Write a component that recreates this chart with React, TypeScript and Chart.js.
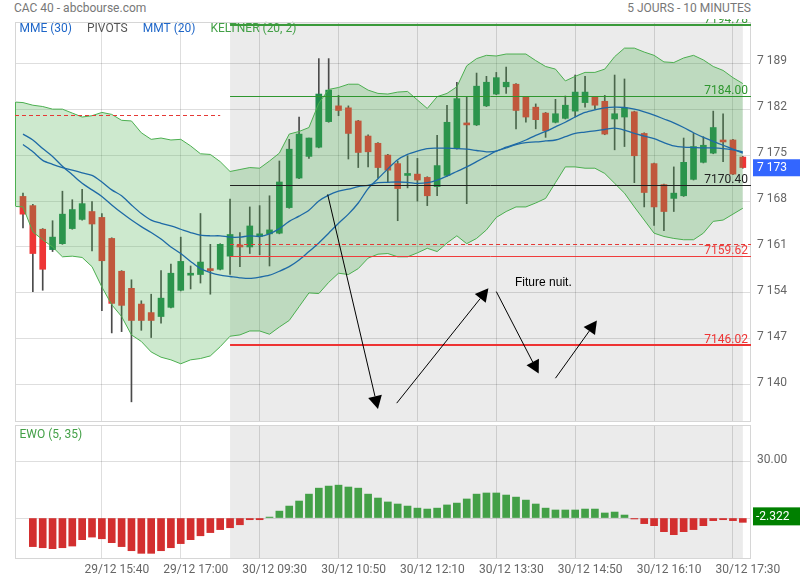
import React, { useEffect, useRef } from 'react';
import { Chart, registerables } from 'chart.js';

Chart.register(...registerables);

// ---------- data ----------
const TIME_TICKS = [8, 16, 24, 32, 40, 48, 56, 64, 72];
const TIME_LABELS = ['29/12 15:40', '29/12 17:00', '30/12 09:30', '30/12 10:50', '30/12 12:10', '30/12 13:30', '30/12 14:50', '30/12 16:10', '30/12 17:30'];
const PRICE_TICKS = [7140, 7147, 7154, 7161, 7168, 7175, 7182, 7189];
const EWO_TICKS = [0, 30];

const OPEN = [7168.7, 7167.3, 7163.7, 7160.6, 7161.5, 7163.8, 7165.2, 7166.4, 7165.5, 7162.3, 7157.3, 7154.7, 7152.3, 7151.0, 7150.4, 7151.8, 7154.4, 7156.7, 7156.8, 7157.7, 7157.6, 7159.6, 7161.3, 7161.0, 7162.6, 7163.0, 7163.1, 7167.0, 7171.5, 7174.8, 7176.2, 7180.1, 7182.5, 7182.2, 7180.2, 7177.9, 7176.8, 7175.0, 7173.7, 7171.9, 7172.1, 7171.6, 7170.2, 7171.9, 7176.0, 7179.9, 7179.6, 7182.5, 7184.3, 7185.4, 7185.8, 7183.8, 7182.3, 7181.4, 7180.0, 7180.6, 7181.7, 7183.0, 7183.8, 7183.2, 7180.5, 7180.8, 7181.6, 7178.3, 7173.7, 7170.5, 7168.4, 7168.8, 7171.3, 7173.9, 7175.3, 7177.3, 7177.3, 7174.7];
const HIGH = [7169.2, 7167.5, 7163.8, 7165.0, 7169.5, 7168.2, 7169.8, 7167.9, 7166.1, 7162.4, 7157.4, 7156.0, 7152.8, 7153.8, 7157.4, 7158.4, 7162.5, 7158.1, 7166.1, 7161.4, 7161.5, 7168.3, 7163.2, 7167.1, 7167.3, 7168.8, 7174.1, 7177.4, 7180.8, 7177.6, 7189.7, 7189.7, 7184.1, 7182.5, 7180.3, 7178.1, 7176.9, 7175.1, 7174.1, 7174.9, 7174.5, 7171.7, 7178.0, 7182.6, 7186.1, 7183.9, 7187.5, 7187.0, 7187.6, 7188.4, 7185.9, 7183.9, 7182.8, 7181.5, 7183.5, 7184.0, 7187.2, 7187.0, 7183.9, 7184.1, 7187.2, 7186.6, 7181.7, 7178.4, 7173.8, 7170.6, 7173.2, 7177.6, 7178.3, 7177.8, 7181.7, 7181.3, 7177.4, 7174.8];
const LOW = [7163.9, 7154.2, 7154.4, 7160.3, 7161.4, 7163.7, 7165.1, 7160.4, 7151.3, 7147.9, 7148.1, 7137.4, 7148.3, 7147.2, 7149.4, 7151.7, 7154.3, 7154.6, 7155.5, 7153.8, 7157.5, 7156.8, 7158.0, 7160.0, 7159.8, 7158.1, 7163.0, 7166.9, 7171.4, 7174.5, 7176.1, 7180.0, 7181.0, 7174.4, 7173.1, 7173.2, 7171.5, 7170.9, 7165.0, 7170.0, 7168.0, 7167.3, 7168.8, 7171.8, 7175.9, 7167.6, 7179.5, 7182.4, 7184.2, 7184.4, 7179.0, 7180.0, 7179.0, 7177.7, 7179.9, 7180.5, 7180.8, 7182.3, 7182.0, 7178.1, 7175.8, 7176.3, 7170.8, 7167.1, 7164.3, 7163.5, 7166.4, 7168.7, 7171.2, 7173.8, 7175.2, 7174.0, 7172.0, 7173.0];
const CLOSE = [7166.0, 7160.0, 7157.6, 7162.5, 7166.0, 7166.7, 7167.6, 7164.5, 7158.9, 7152.4, 7152.1, 7149.8, 7149.8, 7149.8, 7153.2, 7157.0, 7158.8, 7157.0, 7158.7, 7157.4, 7161.4, 7162.9, 7161.0, 7164.2, 7163.0, 7163.6, 7170.9, 7175.9, 7178.2, 7177.6, 7184.3, 7184.9, 7181.8, 7178.3, 7175.4, 7175.5, 7173.1, 7172.7, 7169.9, 7172.2, 7171.2, 7168.8, 7173.4, 7180.0, 7183.6, 7179.6, 7185.5, 7186.1, 7186.8, 7186.1, 7181.8, 7180.8, 7180.4, 7178.7, 7181.3, 7182.6, 7184.6, 7184.6, 7182.6, 7178.2, 7181.3, 7182.2, 7174.9, 7169.3, 7167.1, 7166.4, 7169.2, 7173.9, 7176.3, 7176.5, 7179.2, 7177.0, 7172.1, 7173.1];

// Keltner channel, first value is one bar before the first candle
const KELTNER_FIRST_INDEX = -1;
const KELTNER_UPPER = [7183.1, 7183.0, 7182.6, 7182.4, 7182.0, 7182.0, 7181.4, 7180.8, 7181.0, 7181.5, 7181.2, 7180.3, 7180.2, 7178.4, 7177.4, 7177.6, 7177.3, 7177.4, 7176.4, 7175.2, 7175.1, 7174.0, 7172.5, 7172.8, 7173.1, 7173.0, 7174.1, 7175.3, 7178.2, 7178.6, 7179.2, 7182.9, 7185.0, 7185.3, 7185.8, 7185.8, 7184.9, 7184.4, 7184.3, 7184.6, 7184.7, 7183.4, 7182.1, 7183.9, 7184.4, 7185.4, 7188.6, 7189.7, 7190.2, 7190.1, 7190.4, 7190.4, 7190.4, 7189.4, 7188.5, 7188.1, 7186.3, 7187.0, 7187.6, 7187.6, 7188.1, 7190.0, 7191.3, 7191.3, 7190.7, 7190.2, 7189.2, 7189.1, 7189.8, 7190.2, 7189.5, 7188.5, 7187.9, 7186.8, 7185.9];
const KELTNER_LOWER = [7167.2, 7167.1, 7163.3, 7162.1, 7161.0, 7159.5, 7159.6, 7159.4, 7158.0, 7154.9, 7152.2, 7150.4, 7147.6, 7146.6, 7145.0, 7144.2, 7143.8, 7143.2, 7143.8, 7144.0, 7144.4, 7145.8, 7147.4, 7147.6, 7148.2, 7148.2, 7147.7, 7148.8, 7149.8, 7151.9, 7154.0, 7153.9, 7155.6, 7157.0, 7156.8, 7157.7, 7159.3, 7159.9, 7160.0, 7159.5, 7159.5, 7160.1, 7160.8, 7160.3, 7161.6, 7162.7, 7161.5, 7162.3, 7163.6, 7165.5, 7166.4, 7167.1, 7167.1, 7167.7, 7168.4, 7170.8, 7173.2, 7173.2, 7173.0, 7173.0, 7172.2, 7170.7, 7169.2, 7167.1, 7165.1, 7163.1, 7162.6, 7162.3, 7162.1, 7162.1, 7163.1, 7164.9, 7165.1, 7166.0, 7166.9];

const MMT_20 = [7178.2, 7177.3, 7176.0, 7174.8, 7173.3, 7172.0, 7170.7, 7169.7, 7168.7, 7167.4, 7166.2, 7165.1, 7164.1, 7163.2, 7162.2, 7161.0, 7160.0, 7158.8, 7157.7, 7157.1, 7156.7, 7156.5, 7156.3, 7156.2, 7156.4, 7156.7, 7157.3, 7158.0, 7159.0, 7160.3, 7161.6, 7163.1, 7164.6, 7166.0, 7167.7, 7169.9, 7171.4, 7172.9, 7174.3, 7175.1, 7175.6, 7176.0, 7176.05, 7176.05, 7176.0, 7175.9, 7175.7, 7175.5, 7175.6, 7176.2, 7176.7, 7177.3, 7178.0, 7178.6, 7179.3, 7180.0, 7180.8, 7181.5, 7181.9, 7182.2, 7182.3, 7182.25, 7182.0, 7181.6, 7181.1, 7180.5, 7179.9, 7179.2, 7178.4, 7177.7, 7177.1, 7176.5, 7175.9, 7175.3];
const MME_30 = [7176.6, 7175.5, 7174.2, 7173.6, 7173.1, 7172.7, 7172.3, 7171.9, 7170.9, 7169.7, 7168.8, 7167.4, 7166.1, 7165.1, 7164.6, 7164.2, 7163.7, 7163.2, 7162.8, 7162.7, 7162.7, 7162.5, 7162.5, 7162.7, 7162.6, 7163.0, 7163.8, 7164.9, 7165.7, 7166.6, 7168.0, 7168.9, 7169.5, 7169.8, 7170.2, 7170.4, 7170.8, 7170.85, 7170.9, 7170.85, 7170.7, 7170.8, 7171.2, 7171.8, 7172.5, 7173.2, 7174.0, 7174.8, 7175.6, 7176.1, 7176.6, 7176.9, 7177.0, 7177.15, 7177.3, 7177.8, 7178.3, 7178.5, 7178.7, 7178.9, 7179.1, 7178.8, 7178.3, 7177.9, 7177.5, 7176.9, 7176.4, 7176.2, 7176.15, 7176.1, 7176.1, 7176.0, 7175.8, 7175.5];

const EWO = [null, -15.3, -15.9, -16.4, -15.9, -15.0, -11.6, -10.2, -11.1, -13.2, -15.3, -17.5, -18.9, -18.9, -17.5, -15.9, -13.7, -11.6, -9.5, -7.8, -6.2, -5.2, -3.6, -0.9, -0.9, 0.5, 3.7, 6.4, 9.1, 12.8, 16.0, 17.1, 17.6, 16.6, 16.0, 12.8, 10.7, 8.6, 7.5, 6.4, 5.3, 4.8, 5.3, 7.0, 8.0, 10.2, 12.8, 13.4, 13.4, 12.3, 11.2, 9.6, 7.5, 5.3, 4.3, 4.3, 4.3, 4.8, 4.8, 2.7, 3.2, 1.6, -0.5, -3.0, -4.1, -7.3, -8.9, -7.3, -6.2, -4.1, -1.4, -0.9, -1.4, -2.3];

const PIVOT_VALUES = [7194.78, 7184.0, 7170.4, 7161.45, 7159.62, 7146.02];
const PIVOT_LABELS = ['7194.78', '7184.00', '7170.40', '', '7159.62', '7146.02'];
const PREV_SESSION_PIVOT = 7181.1;
const SESSION_START_INDEX = 21;
const LAST_INDEX = 73;
const LAST_PRICE = 7173.07;
const LAST_EWO = -2.322;

// hand-drawn annotations: [fromIndex, fromPrice, toIndex, toPrice]
const ARROWS = [
  [30.9, 7169.0, 36.0, 7136.3],
  [37.9, 7137.2, 47.2, 7154.7],
  [48.0, 7154.2, 52.3, 7141.7],
  [54.0, 7141.0, 58.2, 7149.8],
];
const NOTE_INDEX = 49.9;
const NOTE_PRICE = 7155.5;
const NOTE_TEXT = 'Fiture nuit.';

// ---------- styles ----------
const FONT = 'Roboto';
const GRID = 'rgba(0,0,0,0.13)';
const BORDER = '#d6d6d6';
const SHADE = '#ebebeb';
const CANDLE_UP = '#1f8a4c';
const CANDLE_DOWN = '#ee3535';
const WICK = '#4a4a4a';
const BAND_LINE = '#4caf50';
const BAND_FILL = 'rgba(76,175,80,0.28)';
const MA_COLOR = '#1e6aa6';
const EWO_UP = '#43a047';
const EWO_DOWN = '#d32f2f';
const PIVOT_STYLE = [
  { color: '#3a9a3a', width: 2, dash: [] as number[] },
  { color: '#2e962e', width: 1, dash: [] as number[] },
  { color: '#222222', width: 1, dash: [] as number[] },
  { color: '#e53935', width: 1, dash: [4, 3] },
  { color: '#f03c3c', width: 1, dash: [] as number[] },
  { color: '#ee3333', width: 2, dash: [] as number[] },
];
const X_MIN = -0.81;
const X_MAX = 73.83;

const fmtThousands = (v: number) => String(Math.round(v)).replace(/\B(?=(\d{3})+(?!\d))/g, ' ');

function xScaleOptions(showLabels: boolean) {
  return {
    type: 'linear' as const,
    min: X_MIN,
    max: X_MAX,
    offset: false,
    grid: { color: GRID, drawTicks: false, offset: false },
    border: { display: false },
    afterBuildTicks: (axis: any) => {
      axis.ticks = TIME_TICKS.map((v) => ({ value: v }));
    },
    afterFit: (axis: any) => {
      axis.height = showLabels ? 22 : 0;
      axis.paddingLeft = 0;
      axis.paddingRight = 0;
    },
    ticks: {
      display: showLabels,
      autoSkip: false,
      maxRotation: 0,
      labelOffset: 15,
      padding: 5,
      color: '#666',
      font: { family: FONT, size: 12 },
      callback: (v: any) => {
        const k = TIME_TICKS.indexOf(Number(v));
        return k >= 0 ? TIME_LABELS[k] : '';
      },
    },
  };
}

function yAfterFit(axis: any) {
  axis.width = 49;
  axis.paddingTop = 0;
  axis.paddingBottom = 0;
}

function drawArrow(ctx: CanvasRenderingContext2D, x1: number, y1: number, x2: number, y2: number) {
  const ang = Math.atan2(y2 - y1, x2 - x1);
  const L = 13;
  const W = 7;
  const bx = x2 - L * Math.cos(ang);
  const by = y2 - L * Math.sin(ang);
  ctx.beginPath();
  ctx.moveTo(x1, y1);
  ctx.lineTo(bx, by);
  ctx.stroke();
  ctx.beginPath();
  ctx.moveTo(x2, y2);
  ctx.lineTo(bx + W * Math.sin(ang), by - W * Math.cos(ang));
  ctx.lineTo(bx - W * Math.sin(ang), by + W * Math.cos(ang));
  ctx.closePath();
  ctx.fill();
}

const mainPlugin = {
  id: 'mainDecor',
  beforeDraw(chart: any) {
    const { ctx, chartArea: a, scales } = chart;
    const x0 = scales.x.getPixelForValue(SESSION_START_INDEX);
    const x1 = scales.x.getPixelForValue(LAST_INDEX);
    ctx.save();
    ctx.fillStyle = SHADE;
    ctx.fillRect(x0, a.top, x1 - x0, a.bottom - a.top);
    ctx.restore();
  },
  beforeDatasetsDraw(chart: any) {
    const { ctx, chartArea: a } = chart;
    ctx.save();
    ctx.font = `12px ${FONT}`;
    ctx.textBaseline = 'middle';
    const items: [string, string][] = [
      ['MME (30)', '#1e66c8'],
      ['PIVOTS', '#555555'],
      ['MMT (20)', '#1e66c8'],
      ['KELTNER (20, 2)', '#43a047'],
    ];
    let x = a.left + 4.5;
    for (const [t, c] of items) {
      ctx.fillStyle = c;
      ctx.fillText(t, x, a.top + 7);
      x += ctx.measureText(t).width + 15;
    }
    ctx.restore();
  },
  afterDatasetsDraw(chart: any) {
    const { ctx, chartArea: a, scales } = chart;
    const xs = scales.x;
    const ys = scales.y;
    // frame
    ctx.save();
    ctx.strokeStyle = BORDER;
    ctx.lineWidth = 1;
    ctx.strokeRect(a.left + 0.5, a.top + 0.5, a.right - a.left - 1, a.bottom - a.top);
    // left edge of the Keltner band where it meets the frame
    const t = (X_MIN - KELTNER_FIRST_INDEX);
    const upEdge = KELTNER_UPPER[0] + (KELTNER_UPPER[1] - KELTNER_UPPER[0]) * t;
    const loEdge = KELTNER_LOWER[0] + (KELTNER_LOWER[1] - KELTNER_LOWER[0]) * t;
    ctx.strokeStyle = BAND_LINE;
    ctx.beginPath();
    ctx.moveTo(a.left + 0.5, ys.getPixelForValue(upEdge));
    ctx.lineTo(a.left + 0.5, ys.getPixelForValue(loEdge));
    ctx.stroke();
    ctx.restore();

    ctx.save();
    ctx.beginPath();
    ctx.rect(a.left, a.top - 3, a.right - a.left, a.bottom - a.top + 3);
    ctx.clip();
    const xStart = xs.getPixelForValue(SESSION_START_INDEX);
    // previous session pivot
    ctx.strokeStyle = '#e53935';
    ctx.lineWidth = 1;
    ctx.setLineDash([4, 3]);
    const yp = Math.round(ys.getPixelForValue(PREV_SESSION_PIVOT)) + 0.5;
    ctx.beginPath();
    ctx.moveTo(a.left, yp);
    ctx.lineTo(xs.getPixelForValue(20), yp);
    ctx.stroke();
    ctx.setLineDash([]);
    ctx.font = `12px ${FONT}`;
    ctx.textAlign = 'right';
    ctx.textBaseline = 'alphabetic';
    PIVOT_VALUES.forEach((v, i) => {
      const st = PIVOT_STYLE[i];
      const y = ys.getPixelForValue(v);
      const yy = st.width === 1 ? Math.round(y) + 0.5 : Math.round(y);
      ctx.strokeStyle = st.color;
      ctx.lineWidth = st.width;
      ctx.setLineDash(st.dash);
      ctx.beginPath();
      ctx.moveTo(xStart, yy);
      ctx.lineTo(a.right, yy);
      ctx.stroke();
      ctx.setLineDash([]);
      if (PIVOT_LABELS[i]) {
        ctx.fillStyle = st.color;
        ctx.fillText(PIVOT_LABELS[i], a.right - 3, y - 2.5);
      }
    });
    // annotations
    ctx.strokeStyle = '#000';
    ctx.fillStyle = '#000';
    ctx.lineWidth = 1;
    ARROWS.forEach(([i1, p1, i2, p2]) => {
      drawArrow(ctx, xs.getPixelForValue(i1), ys.getPixelForValue(p1), xs.getPixelForValue(i2), ys.getPixelForValue(p2));
    });
    ctx.font = '12px "Liberation Sans", Arial, sans-serif';
    ctx.textAlign = 'left';
    ctx.textBaseline = 'middle';
    ctx.fillText(NOTE_TEXT, xs.getPixelForValue(NOTE_INDEX), ys.getPixelForValue(NOTE_PRICE));
    ctx.restore();
  },
  afterDraw(chart: any) {
    const { ctx, chartArea: a, scales } = chart;
    const y = scales.y.getPixelForValue(LAST_PRICE);
    ctx.save();
    ctx.fillStyle = '#3366ff';
    ctx.fillRect(a.right + 2, y - 8.5, 800 - a.right - 2, 17);
    ctx.fillStyle = '#fff';
    ctx.font = `12px ${FONT}`;
    ctx.textBaseline = 'middle';
    ctx.fillText(fmtThousands(LAST_PRICE), a.right + 6, y + 0.5);
    ctx.restore();
  },
};

const ewoPlugin = {
  id: 'ewoDecor',
  beforeDraw(chart: any) {
    const { ctx, chartArea: a, scales } = chart;
    const x0 = scales.x.getPixelForValue(SESSION_START_INDEX);
    const x1 = scales.x.getPixelForValue(LAST_INDEX);
    ctx.save();
    ctx.fillStyle = SHADE;
    ctx.fillRect(x0, a.top, x1 - x0, a.bottom - a.top);
    ctx.restore();
  },
  afterDatasetsDraw(chart: any) {
    const { ctx, chartArea: a } = chart;
    ctx.save();
    ctx.font = `12px ${FONT}`;
    ctx.fillStyle = '#43a047';
    ctx.textBaseline = 'middle';
    ctx.fillText('EWO (5, 35)', a.left + 4.5, a.top + 10);
    ctx.strokeStyle = BORDER;
    ctx.lineWidth = 1;
    ctx.strokeRect(a.left + 0.5, a.top + 0.5, a.right - a.left - 1, a.bottom - a.top);
    ctx.restore();
  },
  afterDraw(chart: any) {
    const { ctx, chartArea: a, scales } = chart;
    const y = scales.y.getPixelForValue(LAST_EWO) - 6;
    ctx.save();
    ctx.fillStyle = '#008000';
    ctx.fillRect(a.right + 2, y - 9, 800 - a.right - 2, 18);
    ctx.fillStyle = '#fff';
    ctx.font = `12px ${FONT}`;
    ctx.textBaseline = 'middle';
    ctx.fillText(LAST_EWO.toFixed(3), a.right + 5, y + 0.5);
    ctx.restore();
  },
};

export default function App() {
  const mainRef = useRef<HTMLCanvasElement | null>(null);
  const ewoRef = useRef<HTMLCanvasElement | null>(null);

  useEffect(() => {
    if (!mainRef.current || !ewoRef.current) return;
    Chart.defaults.font.family = FONT;

    const bodies = OPEN.map((o, i) => ({ x: i, y: [o, CLOSE[i]] }));
    const wicks = HIGH.map((h, i) => ({ x: i, y: [LOW[i], h] }));
    const upper = KELTNER_UPPER.map((v, i) => ({ x: i + KELTNER_FIRST_INDEX, y: v }));
    const lower = KELTNER_LOWER.map((v, i) => ({ x: i + KELTNER_FIRST_INDEX, y: v }));
    const mmt = MMT_20.map((v, i) => ({ x: i, y: v }));
    const mme = MME_30.map((v, i) => ({ x: i, y: v }));

    const main = new Chart(mainRef.current, {
      type: 'bar',
      data: {
        datasets: [
          {
            type: 'bar',
            data: wicks as any,
            backgroundColor: WICK,
            barThickness: 1,
            grouped: false,
            order: 5,
          } as any,
          {
            type: 'bar',
            data: bodies as any,
            backgroundColor: (c: any) => (c.raw && c.raw.y[1] >= c.raw.y[0] ? CANDLE_UP : CANDLE_DOWN),
            barThickness: 6,
            minBarLength: 1,
            grouped: false,
            order: 4,
          } as any,
          {
            type: 'line',
            data: upper as any,
            borderColor: BAND_LINE,
            borderWidth: 1,
            backgroundColor: BAND_FILL,
            fill: '+1',
            pointRadius: 0,
            tension: 0,
            order: 2,
          } as any,
          {
            type: 'line',
            data: lower as any,
            borderColor: BAND_LINE,
            borderWidth: 1,
            fill: false,
            pointRadius: 0,
            tension: 0,
            order: 2,
          } as any,
          {
            type: 'line',
            data: mme as any,
            borderColor: MA_COLOR,
            borderWidth: 1.3,
            fill: false,
            pointRadius: 0,
            tension: 0.3,
            order: 1,
          } as any,
          {
            type: 'line',
            data: mmt as any,
            borderColor: MA_COLOR,
            borderWidth: 1.3,
            fill: false,
            pointRadius: 0,
            tension: 0.3,
            order: 1,
          } as any,
        ],
      },
      options: {
        animation: false,
        responsive: false,
        devicePixelRatio: 1,
        layout: { padding: { left: 15, top: 22, right: 0, bottom: 4 } },
        plugins: { legend: { display: false }, tooltip: { enabled: false }, title: { display: false } },
        scales: {
          x: xScaleOptions(false) as any,
          y: {
            type: 'linear',
            position: 'right',
            min: 7134.48,
            max: 7195.28,
            grid: { color: GRID, drawTicks: false },
            border: { display: false },
            afterBuildTicks: (axis: any) => {
              axis.ticks = PRICE_TICKS.map((v) => ({ value: v }));
            },
            afterFit: yAfterFit,
            ticks: {
              padding: 6,
              labelOffset: -2,
              color: '#666',
              font: { family: FONT, size: 12 },
              callback: (v: any) => fmtThousands(Number(v)),
            },
          } as any,
        },
      },
      plugins: [mainPlugin],
    });

    const ewoData = EWO.map((v, i) => ({ x: i, y: v })).filter((d) => d.y !== null);
    const ewo = new Chart(ewoRef.current, {
      type: 'bar',
      data: {
        datasets: [
          {
            data: ewoData as any,
            backgroundColor: (c: any) => (c.raw && c.raw.y >= 0 ? EWO_UP : EWO_DOWN),
            barThickness: 7,
            grouped: false,
          } as any,
        ],
      },
      options: {
        animation: false,
        responsive: false,
        devicePixelRatio: 1,
        layout: { padding: { left: 15, top: 4, right: 0, bottom: 0 } },
        plugins: { legend: { display: false }, tooltip: { enabled: false }, title: { display: false } },
        scales: {
          x: xScaleOptions(true) as any,
          y: {
            type: 'linear',
            position: 'right',
            min: -21.4,
            max: 49.8,
            grid: { color: GRID, drawTicks: false },
            border: { display: false },
            afterBuildTicks: (axis: any) => {
              axis.ticks = EWO_TICKS.map((v) => ({ value: v }));
            },
            afterFit: yAfterFit,
            ticks: {
              padding: 6,
              labelOffset: -2,
              color: '#666',
              font: { family: FONT, size: 12 },
              callback: (v: any) => (Number(v) === 30 ? '30.00' : ''),
            },
          } as any,
        },
      },
      plugins: [ewoPlugin],
    });

    return () => {
      main.destroy();
      ewo.destroy();
    };
  }, []);

  return (
    <div style={{ position: 'fixed', left: 0, top: 0, width: 800, height: 580, background: '#fff', fontFamily: FONT, overflow: 'hidden' }}>
      <div style={{ position: 'absolute', left: 14, top: 1, fontSize: 12, color: '#777', whiteSpace: 'nowrap' }}>CAC 40 - abcbourse.com</div>
      <div style={{ position: 'absolute', right: 49, top: 1, fontSize: 12, color: '#777', whiteSpace: 'nowrap' }}>5 JOURS - 10 MINUTES</div>
      <canvas ref={mainRef} width={800} height={425} style={{ position: 'absolute', left: 0, top: 0, display: 'block' }} />
      <canvas ref={ewoRef} width={800} height={159} style={{ position: 'absolute', left: 0, top: 421, display: 'block' }} />
    </div>
  );
}
